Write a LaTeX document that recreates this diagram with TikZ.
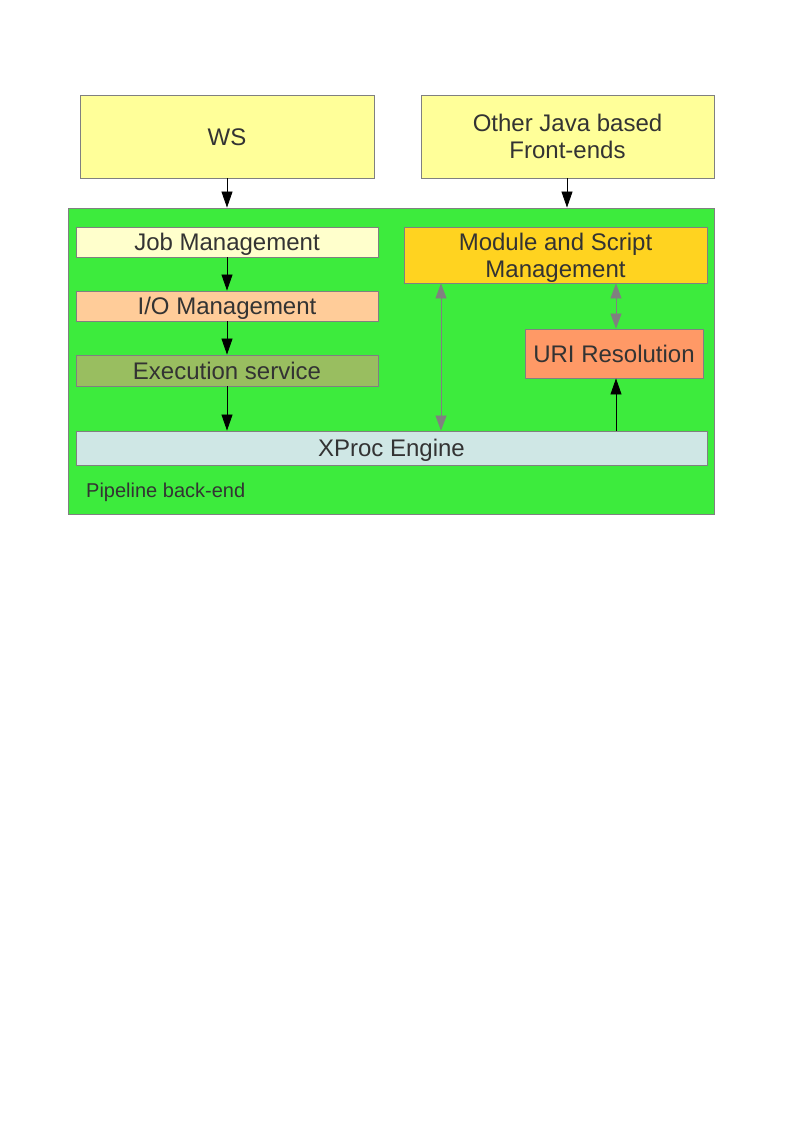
\documentclass[tikz,border=0pt]{standalone}
\usepackage{fontspec}
\setmainfont{Liberation Sans}
\usetikzlibrary{arrows.meta}
\definecolor{txt}{HTML}{333333}
\definecolor{bord}{HTML}{808080}
\definecolor{fe}{HTML}{FFFF99}
\definecolor{be}{HTML}{3DEB3D}
\definecolor{jobc}{HTML}{FFFFCC}
\definecolor{ioc}{HTML}{FFCC99}
\definecolor{exc}{HTML}{99BE60}
\definecolor{xpc}{HTML}{CFE7E5}
\definecolor{modc}{HTML}{FFD320}
\definecolor{uric}{HTML}{FF9966}
\begin{document}
\begin{tikzpicture}[x=1pt,y=-1pt,
  box/.style={draw=bord, line width=0.9pt, inner sep=0pt, text=txt,
    font=\fontsize{24}{27}\selectfont, align=center,
    text height=17.2pt, text depth=0pt},
  twoline/.style={text height=44.2pt},
  arr/.style={-{Triangle[length=16pt,width=11pt]}, line width=0.8pt, black},
  garr/.style={{Triangle[length=15pt,width=11pt]}-{Triangle[length=15pt,width=11pt]}, line width=0.8pt, bord}]
\useasboundingbox (0,0) rectangle (794,1123);
\node[box, fill=fe, minimum width=294pt, minimum height=83pt] (ws) at (227,136.5) {WS};
\node[box, twoline, fill=fe, minimum width=293pt, minimum height=83pt] (oj) at (567.5,136.5) {Other Java based\\Front-ends};
\node[draw=bord, line width=0.9pt, fill=be, minimum width=646pt, minimum height=306pt, inner sep=0pt] (back) at (391,361) {};
\node[anchor=base west, text=txt, font=\fontsize{20}{24}\selectfont, inner sep=0pt] (lbl) at (86,497) {Pipeline back-end};
\node[box, fill=jobc, minimum width=302pt, minimum height=30pt] (job) at (227,242) {Job Management};
\node[box, fill=ioc, minimum width=302pt, minimum height=30pt] (io) at (227,306) {I/O Management};
\node[box, fill=exc, minimum width=302pt, minimum height=31pt] (ex) at (227,370.5) {Execution service};
\node[box, fill=xpc, minimum width=631pt, minimum height=34pt] (xp) at (391.5,448) {XProc Engine};
\node[box, twoline, fill=modc, minimum width=303pt, minimum height=56pt] (mod) at (555.5,255) {Module and Script\\Management};
\node[box, fill=uric, minimum width=178pt, minimum height=49pt] (uri) at (614,353.5) {URI Resolution};
\coordinate (cw) at (227,0);
\coordinate (co) at (567,0);
\coordinate (cg) at (441,0);
\coordinate (cu) at (616,0);
\draw[arr] (cw |- ws.south) -- (cw |- back.north);
\draw[arr] (co |- oj.south) -- (co |- back.north);
\draw[arr] (cw |- job.south) -- (cw |- io.north);
\draw[arr] (cw |- io.south) -- (cw |- ex.north);
\draw[arr] (cw |- ex.south) -- (cw |- xp.north);
\draw[garr] (cg |- xp.north) -- (cg |- mod.south);
\draw[garr] (cu |- mod.south) -- (cu |- uri.north);
\draw[arr] (cu |- xp.north) -- (cu |- uri.south);
\end{tikzpicture}
\end{document}
